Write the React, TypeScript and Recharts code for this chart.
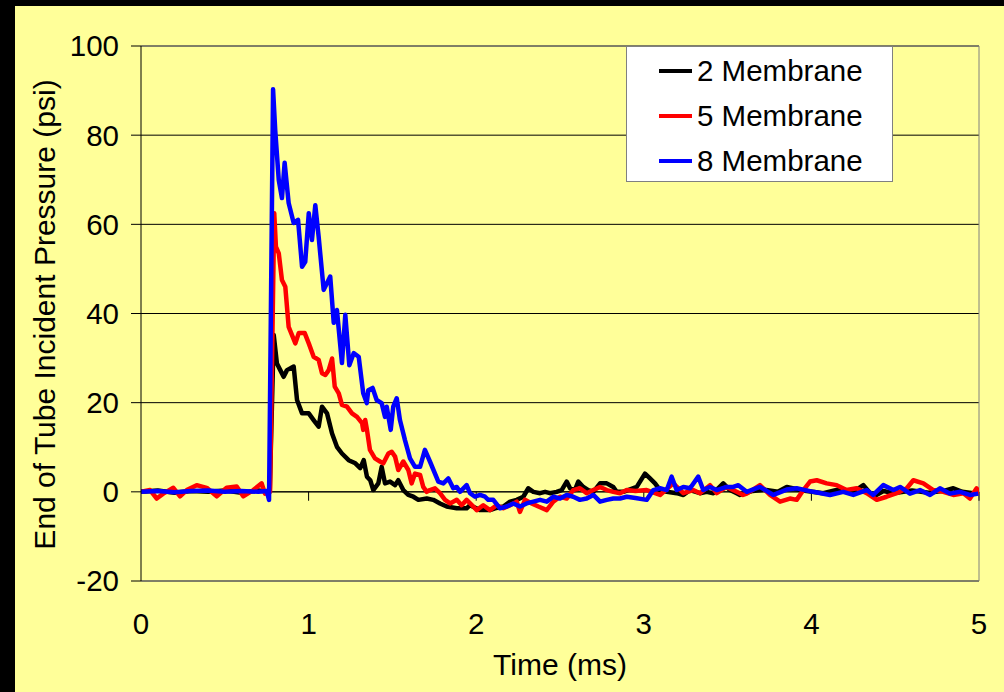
import {
  LineChart,
  Line,
  XAxis,
  YAxis,
  CartesianGrid,
  Legend,
  ReferenceLine,
} from 'recharts';

// [time (ms), pressure (psi)]
const membrane2: [number, number][] = [
  [0, 0], [0.1, 0.3], [0.2, -0.2], [0.3, 0.2], [0.4, 0], [0.5, 0.3], [0.6, -0.2], [0.7, 0.3], [0.768, 0],
  [0.792, 35.2], [0.811, 28.8], [0.831, 27.3], [0.851, 25.8], [0.871, 27.3], [0.911, 28.1], [0.931, 20.6],
  [0.961, 17.6], [1.001, 17.6], [1.03, 16.1], [1.06, 14.6], [1.08, 19.1], [1.11, 17.6], [1.14, 13.1],
  [1.169, 10.1], [1.199, 8.6], [1.239, 7.1], [1.279, 6.4], [1.308, 5.3], [1.329, 7.1], [1.348, 3.4],
  [1.368, 2.6], [1.386, 0.4], [1.416, 1.9], [1.436, 5.6], [1.456, 1.9], [1.486, 2.3], [1.516, 1.5],
  [1.535, 2.6], [1.565, 0.4], [1.595, -0.7], [1.625, -1.1], [1.655, -1.8], [1.705, -1.5], [1.744, -1.8],
  [1.784, -2.6], [1.824, -3.3], [1.884, -3.7], [1.943, -3.7], [1.963, -3.0], [2.023, -4.1], [2.082, -4.1],
  [2.112, -3.7], [2.162, -3.3], [2.202, -2.2], [2.242, -1.8], [2.281, -1.1], [2.311, 0.8], [2.341, 0],
  [2.381, -0.3], [2.411, 0], [2.44, -0.3], [2.48, 0], [2.51, 0.4], [2.54, 2.3], [2.56, 0.8], [2.589, 0.4],
  [2.609, 2.3], [2.639, 1.1], [2.669, 0.4], [2.699, 0], [2.739, 1.9], [2.779, 1.9], [2.818, 1.1], [2.838, 0],
  [2.878, 0], [2.958, 1.1], [3.007, 4.1], [3.037, 3.0], [3.067, 1.9], [3.097, 0.4], [3.137, 0], [3.196, -0.3],
  [3.236, -0.7], [3.276, 0.4], [3.335, -0.3], [3.375, 0], [3.415, -0.3], [3.474, 1.9], [3.514, 0.4],
  [3.554, -0.3], [3.574, -0.7], [3.65, 0.2], [3.72, 0.5], [3.8, 0], [3.853, 1.1], [3.95, 0.3], [4.071, -0.3],
  [4.15, 0.4], [4.25, 0], [4.31, 1.5], [4.369, -1.1], [4.43, 0.2], [4.489, -0.3], [4.6, 0.3], [4.7, -0.2],
  [4.8, 0.3], [4.847, 0.8], [4.9, 0], [4.966, -0.3], [5.0, 0.3],
];

const membrane5: [number, number][] = [
  [0, 0], [0.054, 0.4], [0.094, -1.5], [0.133, -0.4], [0.193, 0.9], [0.233, -1.0], [0.273, 0.4], [0.332, 1.5],
  [0.392, 0.9], [0.452, -1.0], [0.511, 0.9], [0.571, 1.2], [0.61, -1.0], [0.67, 0.4], [0.72, 1.9], [0.74, -0.4],
  [0.77, 0], [0.795, 62.5], [0.805, 55.0], [0.822, 53.5], [0.841, 47.5], [0.861, 46.0], [0.881, 37.0],
  [0.921, 33.3], [0.941, 35.6], [0.977, 35.6], [1.001, 33.3], [1.03, 30.3], [1.06, 29.6], [1.08, 26.6],
  [1.1, 26.2], [1.12, 27.3], [1.14, 29.9], [1.156, 23.6], [1.18, 22.1], [1.199, 19.5], [1.229, 19.1],
  [1.259, 17.6], [1.289, 16.8], [1.319, 15.4], [1.326, 13.9], [1.338, 16.1], [1.347, 14.2], [1.366, 9.4],
  [1.396, 7.5], [1.426, 6.8], [1.446, 6.4], [1.476, 8.6], [1.496, 9.0], [1.516, 7.9], [1.535, 4.9],
  [1.565, 6.8], [1.595, 4.9], [1.615, 1.9], [1.635, 4.1], [1.665, 3.8], [1.684, 1.1], [1.705, 0], [1.724, 0.4],
  [1.754, 0.8], [1.784, -0.3], [1.814, -1.8], [1.844, -2.6], [1.884, -1.8], [1.913, -3.0], [1.943, -1.8],
  [1.983, -3.3], [2.003, -4.1], [2.042, -3.0], [2.082, -4.1], [2.122, -3.0], [2.162, -3.7], [2.202, -3.0],
  [2.242, -2.2], [2.261, -4.5], [2.291, -1.8], [2.331, -2.6], [2.371, -3.3], [2.421, -4.1], [2.46, -2.2],
  [2.5, -1.1], [2.54, -1.5], [2.579, 0.4], [2.619, 0.8], [2.659, -0.3], [2.699, 0.4], [2.739, 1.1],
  [2.779, 0.4], [2.818, 0], [2.858, -0.3], [2.898, 0.4], [2.95, 0.2], [3.017, 0.4], [3.097, -0.7],
  [3.176, 1.9], [3.236, -0.3], [3.295, 0.4], [3.335, -0.3], [3.395, 1.5], [3.435, -0.3], [3.494, 1.1],
  [3.554, 0], [3.592, -0.7], [3.614, -0.4], [3.693, 1.5], [3.753, -0.7], [3.813, -2.2], [3.872, -1.5],
  [3.912, -1.8], [3.952, 0.4], [3.992, 2.3], [4.032, 2.6], [4.091, 1.9], [4.151, 1.5], [4.21, 0.4],
  [4.27, 0.8], [4.33, -0.3], [4.39, -1.8], [4.449, -1.1], [4.509, -0.3], [4.569, 0.8], [4.608, 2.6],
  [4.668, 1.9], [4.727, 0.4], [4.787, 0], [4.847, -0.7], [4.907, -0.3], [4.946, -1.5], [4.986, 0.8], [5.0, -0.5],
];

const membrane8: [number, number][] = [
  [0, 0], [0.1, 0.2], [0.2, -0.1], [0.3, 0.2], [0.4, 0.3], [0.5, 0], [0.6, 0.2], [0.7, 0], [0.75, 0.2],
  [0.764, -1.8], [0.788, 90.3], [0.801, 81], [0.822, 69.9], [0.841, 65.9], [0.857, 73.8], [0.881, 64.8],
  [0.911, 60.3], [0.937, 61.0], [0.961, 50.5], [0.98, 51.6], [1.001, 62.5], [1.02, 56.5], [1.04, 64.3],
  [1.06, 57.2], [1.09, 45.3], [1.129, 48.3], [1.15, 37.9], [1.169, 40.8], [1.199, 28.9], [1.219, 39.7],
  [1.243, 28.4], [1.269, 31.1], [1.299, 30.3], [1.326, 22.1], [1.347, 19.9], [1.356, 22.8], [1.382, 23.3],
  [1.406, 20.6], [1.436, 19.9], [1.456, 16.8], [1.466, 19.1], [1.49, 13.9], [1.505, 19.1], [1.526, 21.0],
  [1.545, 16.1], [1.575, 11.6], [1.605, 7.5], [1.635, 5.6], [1.665, 5.6], [1.694, 9.4], [1.724, 6.8],
  [1.774, 2.3], [1.804, 1.9], [1.834, 3.0], [1.863, 0.8], [1.884, 1.1], [1.903, 0], [1.943, 1.5],
  [1.963, -0.3], [1.993, -1.1], [2.023, -0.7], [2.053, -1.1], [2.072, -1.8], [2.102, -1.8], [2.142, -3.7],
  [2.182, -3.3], [2.221, -2.6], [2.261, -3.3], [2.301, -2.6], [2.341, -2.2], [2.381, -1.8], [2.421, -2.2],
  [2.46, -1.1], [2.5, -1.5], [2.54, -0.7], [2.579, -1.1], [2.619, -1.8], [2.659, -1.5], [2.699, -0.7],
  [2.739, -2.2], [2.779, -1.8], [2.818, -1.5], [2.858, -1.5], [2.898, -1.1], [2.95, -1.4], [3.017, -1.8],
  [3.057, 0.4], [3.097, 0.8], [3.137, 0.4], [3.166, 3.4], [3.196, 0.4], [3.236, 1.1], [3.276, 0.8],
  [3.325, 3.4], [3.355, 0.4], [3.395, 1.1], [3.435, 0.4], [3.494, 1.1], [3.534, 1.1], [3.564, 1.5],
  [3.614, 0], [3.693, 1.1], [3.773, -0.7], [3.853, 0.5], [3.912, 0.8], [4.011, 0], [4.111, -0.7], [4.19, 0],
  [4.25, -0.7], [4.33, 0.4], [4.369, -0.7], [4.429, 1.5], [4.489, 0.4], [4.529, 1.1], [4.588, -0.4],
  [4.648, 0.4], [4.708, -0.7], [4.767, 0.8], [4.827, -0.4], [4.887, 0], [4.946, -0.7], [4.996, -0.4],
];

const seriesNames = ['2 Membrane', '5 Membrane', '8 Membrane'];
const seriesColors = ['#000000', '#FF0000', '#0000FF'];
const xTicks = [0, 1, 2, 3, 4, 5];
const yTicks = [-20, 0, 20, 40, 60, 80, 100];

const FONT = '"Liberation Sans", Arial, sans-serif';
const YELLOW = '#FFFF99';
const TICK_SIZE = 29.5;
const TITLE_SIZE = 30;

const toRows = (pts: [number, number][]) => pts.map(([t, v]) => ({ t, v }));

function LegendBox() {
  return (
    <div
      style={{
        width: 267,
        height: 136,
        boxSizing: 'border-box',
        background: '#fff',
        border: '1px solid #808080',
        paddingTop: 1,
        fontFamily: FONT,
        fontSize: TICK_SIZE,
        color: '#000',
        whiteSpace: 'nowrap',
      }}
    >
      {seriesNames.map((name, i) => (
        <div key={name} style={{ display: 'flex', alignItems: 'center', height: 45, paddingLeft: 32 }}>
          <span style={{ display: 'inline-block', width: 33, height: 4, background: seriesColors[i], marginRight: 5 }} />
          <span>{name}</span>
        </div>
      ))}
    </div>
  );
}

// vertical axis title, drawn centred in the y-axis band
function YTitle(props: any) {
  const vb = props.viewBox || { x: 0, y: 0, width: 0, height: 0 };
  const cx = vb.x + 29;
  const cy = vb.y + vb.height / 2 + 1;
  return (
    <text
      x={cx}
      y={cy}
      transform={`rotate(-90, ${cx}, ${cy})`}
      textAnchor="middle"
      dominantBaseline="central"
      fontSize={TITLE_SIZE}
      fontFamily={FONT}
      fill="#000"
    >
      End of Tube Incident Pressure (psi)
    </text>
  );
}

export default function App() {
  const all = [membrane2, membrane5, membrane8];
  return (
    <div style={{ position: 'absolute', left: 0, top: 0, width: 1004, height: 692, background: '#000' }}>
      <div style={{ position: 'absolute', left: 15, top: 6, width: 989, height: 686, background: YELLOW }}>
        <LineChart width={989} height={686} margin={{ top: 40, right: 25, bottom: 0, left: 0 }}>
          <CartesianGrid vertical={false} stroke="#000" strokeWidth={1} />
          <XAxis
            dataKey="t"
            type="number"
            domain={[0, 5]}
            ticks={xTicks}
            allowDataOverflow
            height={111}
            axisLine={false}
            tickLine={false}
            tickSize={0}
            tickMargin={32}
            tick={{ fontSize: TICK_SIZE, fill: '#000', fontFamily: FONT }}
            label={{ value: 'Time (ms)', position: 'insideBottom', offset: 17, fontSize: TITLE_SIZE, fill: '#000', fontFamily: FONT }}
          />
          <YAxis
            type="number"
            domain={[-20, 100]}
            ticks={yTicks}
            allowDataOverflow
            width={126}
            axisLine={{ stroke: '#000', strokeWidth: 1 }}
            tickLine={{ stroke: '#000', strokeWidth: 1 }}
            tickSize={10}
            tickMargin={12}
            tick={{ fontSize: TICK_SIZE, fill: '#000', fontFamily: FONT }}
            label={{ content: YTitle }}
          />
          <ReferenceLine y={100} stroke="#808080" strokeWidth={1} />
          <ReferenceLine y={-20} stroke="#808080" strokeWidth={1} />
          <ReferenceLine x={5} stroke="#808080" strokeWidth={1} />
          <ReferenceLine y={0} stroke="#000" strokeWidth={1} />
          {xTicks.slice(1).map((t) => (
            <ReferenceLine key={t} segment={[{ x: t, y: 0 }, { x: t, y: -2 }]} stroke="#000" strokeWidth={1} />
          ))}
          <Legend
            layout="horizontal"
            verticalAlign="middle"
            align="center"
            wrapperStyle={{ left: 611, top: 40, width: 267 }}
            content={() => <LegendBox />}
          />
          {all.map((pts, i) => (
            <Line
              key={seriesNames[i]}
              data={toRows(pts)}
              dataKey="v"
              name={seriesNames[i]}
              type="linear"
              stroke={seriesColors[i]}
              strokeWidth={4.5}
              strokeLinejoin="round"
              dot={false}
              activeDot={false}
              isAnimationActive={false}
            />
          ))}
        </LineChart>
      </div>
    </div>
  );
}
